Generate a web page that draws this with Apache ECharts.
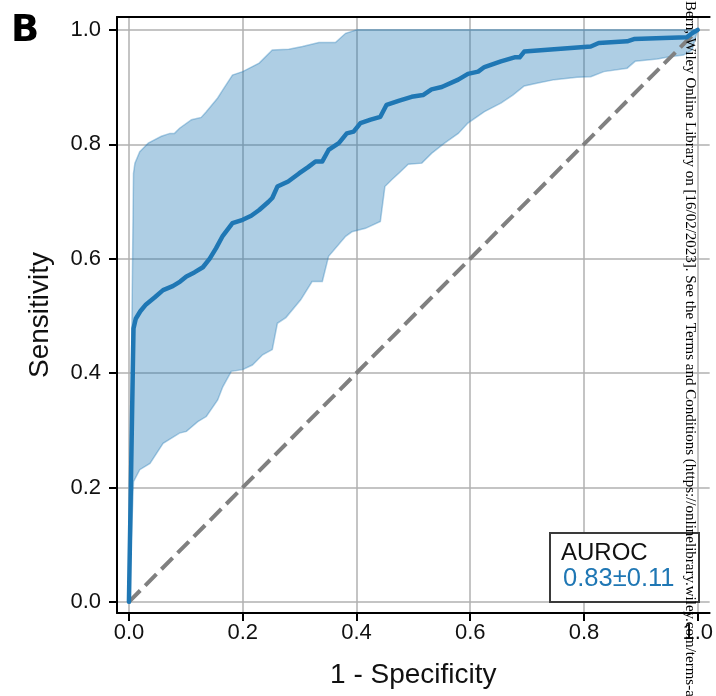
<!DOCTYPE html>
<html><head><meta charset="utf-8">
<script src="https://cdn.jsdelivr.net/npm/echarts@6/dist/echarts.min.js"></script>
<style>html,body{margin:0;padding:0;background:#fff;overflow:hidden}#c{width:716px;height:696px}</style>
</head><body><div id="c"></div>
<script>
// ---- data ----
const meanFpr = [0,0.008,0.012,0.02,0.03,0.045,0.06,0.077,0.09,0.101,0.115,0.13,0.142,0.153,0.165,0.182,0.2,0.215,0.229,0.245,0.252,0.261,0.28,0.299,0.315,0.328,0.34,0.351,0.369,0.383,0.395,0.407,0.425,0.442,0.453,0.474,0.497,0.517,0.532,0.55,0.579,0.596,0.614,0.625,0.654,0.678,0.687,0.695,0.73,0.812,0.826,0.876,0.888,0.94,0.981,0.99,1.0];
const meanTpr = [0,0.478,0.495,0.508,0.52,0.532,0.545,0.552,0.56,0.569,0.576,0.585,0.6,0.618,0.64,0.662,0.668,0.675,0.685,0.699,0.706,0.726,0.735,0.749,0.76,0.77,0.77,0.79,0.802,0.819,0.822,0.837,0.843,0.848,0.869,0.876,0.883,0.886,0.896,0.9,0.913,0.923,0.927,0.935,0.945,0.952,0.952,0.962,0.965,0.971,0.977,0.98,0.984,0.986,0.987,0.994,1.0];

const upperFpr = [0,0.008,0.0105,0.019,0.034,0.057,0.072,0.08,0.089,0.11,0.127,0.136,0.156,0.165,0.182,0.2,0.229,0.252,0.281,0.305,0.334,0.363,0.381,0.401,1.0];
const upperTpr = [0,0.749,0.767,0.787,0.802,0.814,0.819,0.819,0.828,0.843,0.847,0.857,0.881,0.895,0.921,0.927,0.942,0.965,0.966,0.971,0.978,0.978,0.994,1.0,1.0];

const lowerFpr = [0,0.008,0.019,0.037,0.06,0.089,0.101,0.121,0.136,0.156,0.165,0.18,0.2,0.217,0.235,0.252,0.261,0.276,0.302,0.322,0.34,0.351,0.381,0.392,0.416,0.442,0.45,0.462,0.474,0.491,0.515,0.532,0.555,0.579,0.596,0.625,0.654,0.675,0.695,0.719,0.748,0.788,0.812,0.835,0.876,0.89,0.929,0.951,0.975,0.99,1.0];
const lowerTpr = [0,0.21,0.231,0.242,0.277,0.295,0.298,0.315,0.324,0.353,0.376,0.403,0.406,0.414,0.432,0.441,0.487,0.497,0.528,0.56,0.56,0.604,0.639,0.647,0.653,0.665,0.726,0.738,0.749,0.765,0.767,0.784,0.802,0.819,0.837,0.857,0.872,0.886,0.902,0.907,0.913,0.917,0.918,0.927,0.933,0.945,0.949,0.953,0.956,0.965,1.0];

const chanceX = [0, 1];
const chanceY = [0, 1];

const tickValues = [0, 0.2, 0.4, 0.6, 0.8, 1.0];
const xAxisTitle = '1 - Specificity';
const yAxisTitle = 'Sensitivity';
const panelLetter = 'B';
const aurocTitle = 'AUROC';
const aurocValue = ' 0.83\u00b10.11';
const watermark = 'Bern, Wiley Online Library on [16/02/2023]. See the Terms and Conditions (https://onlinelibrary.wiley.com/terms-a';

// ---- chart ----
const FONT = '"Liberation Sans", Arial, Helvetica, sans-serif';
const zip = (a, b) => a.map((v, i) => [v, b[i]]);
const fmt = v => (Math.abs(v * 5 - Math.round(v * 5)) < 1e-6 ? v.toFixed(1) : '');

const chart = echarts.init(document.getElementById('c'), null, {renderer: 'canvas'});
chart.setOption({
  animation: false,
  backgroundColor: '#fff',
  grid: {left: 117, right: 3, top: 17, bottom: 83, containLabel: false},
  xAxis: [{
    type: 'value', min: -0.021, max: 1.021, position: 'bottom',
    axisLine: {show: true, onZero: false, lineStyle: {color: '#000', width: 2}},
    axisTick: {show: true, inside: false, length: 8, customValues: tickValues, lineStyle: {color: '#000', width: 2}},
    axisLabel: {customValues: tickValues, formatter: fmt, fontSize: 22, color: '#111', margin: 9, fontFamily: FONT},
    splitLine: {show: true, lineStyle: {color: '#b0b0b0', width: 1.5}},
    name: xAxisTitle, nameLocation: 'middle', nameGap: 48,
    nameTextStyle: {fontSize: 28, color: '#111', fontFamily: FONT}
  }, {
    type: 'value', min: -0.021, max: 1.021, position: 'top',
    axisLine: {show: true, onZero: false, lineStyle: {color: '#000', width: 2}},
    axisTick: {show: false}, axisLabel: {show: false}, splitLine: {show: false}
  }],
  yAxis: [{
    type: 'value', min: -0.0195, max: 1.0225, position: 'left',
    axisLine: {show: true, onZero: false, lineStyle: {color: '#000', width: 2}},
    axisTick: {show: true, inside: false, length: 8, customValues: tickValues, lineStyle: {color: '#000', width: 2}},
    axisLabel: {customValues: tickValues, formatter: fmt, fontSize: 22, color: '#111', margin: 16, fontFamily: FONT},
    splitLine: {show: true, lineStyle: {color: '#b0b0b0', width: 1.5}},
    name: yAxisTitle, nameLocation: 'middle', nameGap: 63,
    nameTextStyle: {fontSize: 28, color: '#111', fontFamily: FONT}
  }],
  series: [{
    type: 'custom',
    coordinateSystem: 'cartesian2d',
    clip: true,
    z: 1,
    data: [[0.5, 0.5]],
    renderItem: function (params, api) {
      const pts = [];
      for (let i = 0; i < upperFpr.length; i++) pts.push(api.coord([upperFpr[i], upperTpr[i]]));
      for (let i = lowerFpr.length - 1; i >= 0; i--) pts.push(api.coord([lowerFpr[i], lowerTpr[i]]));
      return {
        type: 'polygon',
        shape: {points: pts},
        style: {fill: 'rgba(31,119,180,0.36)', stroke: 'rgba(31,119,180,0.35)', lineWidth: 1.5}
      };
    }
  }, {
    type: 'line', z: 2, symbol: 'none', silent: true,
    data: zip(chanceX, chanceY),
    lineStyle: {color: '#808080', width: 4, type: [16, 7]}
  }, {
    type: 'line', z: 3, symbol: 'none', silent: true,
    data: zip(meanFpr, meanTpr),
    lineStyle: {color: '#1f77b4', width: 4.5, join: 'round', cap: 'round'}
  }],
  graphic: [{
    type: 'text', x: 11, y: 31, z: 100,
    style: {text: panelLetter, font: '900 37px "DejaVu Sans", sans-serif', fill: '#000', align: 'left', verticalAlign: 'middle'}
  }, {
    type: 'rect', z: 100,
    shape: {x: 550, y: 533, width: 149, height: 69},
    style: {fill: '#fff', stroke: '#3a3a3a', lineWidth: 2}
  }, {
    type: 'text', x: 561, y: 553, z: 101,
    style: {text: aurocTitle, font: '24px ' + FONT, fill: '#111', align: 'left', verticalAlign: 'middle'}
  }, {
    type: 'text', x: 556, y: 579, z: 101,
    style: {text: aurocValue, font: '25.5px ' + FONT, fill: '#1f77b4', align: 'left', verticalAlign: 'middle'}
  }, {
    type: 'text', x: 690, y: 1, z: 110, rotation: -Math.PI / 2,
    style: {text: watermark, font: '15px "Liberation Serif", "Times New Roman", serif', fill: '#000', align: 'left', verticalAlign: 'middle'}
  }]
});
</script>
</body></html>
